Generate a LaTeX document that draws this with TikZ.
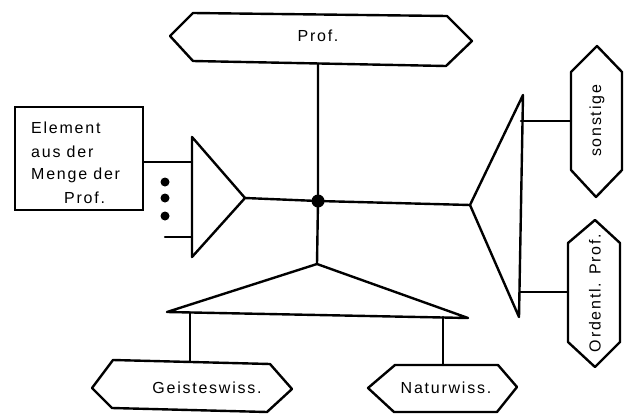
\documentclass[tikz,border=0pt]{standalone}
\usepackage{fontspec}
\setmainfont{Liberation Sans}[LetterSpace=11]
\begin{document}
\begin{tikzpicture}[x=1pt,y=-1pt,
  ln/.style={line width=2.4pt, line join=round, line cap=round},
  lbl/.style={inner sep=0pt, font=\fontsize{16}{19}\selectfont},
  blob/.style={circle, fill=black, inner sep=0pt}]
\useasboundingbox (0,0) rectangle (626,415);
% --- anchor coordinates
\coordinate (profB) at (318,63.5);
\coordinate (hub) at (318,201);
\coordinate (lApex) at (245,198);
\coordinate (lTop) at (192,162);
\coordinate (lBot) at (192,237);
\coordinate (lFree) at (165,237);
\coordinate (rApex) at (470,205);
\coordinate (rS) at (521,121);
\coordinate (rO) at (520,292);
\coordinate (sonL) at (571,121);
\coordinate (ordL) at (568,292);
\coordinate (bApex) at (317,264);
\coordinate (bL) at (190,312.5);
\coordinate (bR) at (443,317);
\coordinate (geiT) at (190,361);
\coordinate (natT) at (443,365);
% --- shapes
\draw[ln] (170,36) -- (193,13) -- (447,16) -- (472,41) -- (446,66) -- (193,61) -- cycle;
\draw[ln] (597,46) -- (622,72) -- (622,170) -- (596,197) -- (571,170) -- (571,72) -- cycle;
\draw[ln] (595,220) -- (620,243) -- (620,342) -- (595,367) -- (568,342) -- (568,243) -- cycle;
\draw[ln] (92,388) -- (113,360) -- (270,364) -- (292,389) -- (267,412) -- (112,408) -- cycle;
\draw[ln] (368,388) -- (395,365) -- (498,365) -- (517,387) -- (497,412) -- (394,412) -- cycle;
\draw[ln] (192,137) -- (lApex) -- (192,257) -- cycle;
\draw[ln] (523,95) -- (rApex) -- (519,317) -- cycle;
\draw[ln] (bApex) -- (468,318) -- (167,312) -- cycle;
\node[draw, line width=2.4pt, minimum width=128pt, minimum height=103pt, inner sep=0pt] (box) at (79,158.5) {};
% --- texts
\node[lbl] (tProf) at (318,36) {Prof.};
\node[lbl, rotate=90] (tSon) at (597,121) {sonstige};
\node[lbl, rotate=90] (tOrd) at (595,293) {Ordentl. Prof.};
\node[lbl] (tGei) at (207,388) {Geisteswiss.};
\node[lbl] (tNat) at (446,388) {Naturwiss.};
\node[lbl, anchor=west] (e1) at (31,128) {Element};
\node[lbl, anchor=west] (e2) at (31,152) {aus der};
\node[lbl, anchor=west] (e3) at (31,175) {Menge der};
\node[lbl, anchor=west] (e4) at (64,198) {Prof.};
% --- connectors
\draw[ln] (box.east |- lTop) -- (lTop);
\draw[ln] (lFree) -- (lBot);
\draw[ln] (lApex) -- (hub) -- (rApex);
\draw[ln] (profB) -- (hub) -- (bApex);
\draw[ln] (rS) -- (sonL);
\draw[ln] (rO) -- (ordL);
\draw[ln] (bL) -- (geiT);
\draw[ln] (bR) -- (natT);
\node[blob, minimum size=13pt] (dot) at (hub) {};
\node[blob, minimum size=9pt] (d1) at (165,182) {};
\node[blob, minimum size=9pt] (d2) at (165,198) {};
\node[blob, minimum size=9pt] (d3) at (165,216) {};
\end{tikzpicture}
\end{document}
